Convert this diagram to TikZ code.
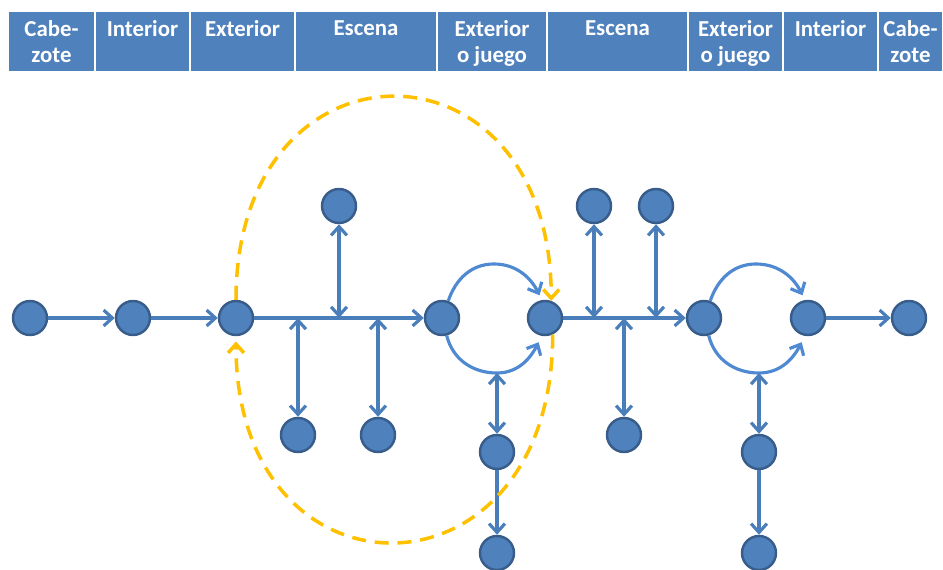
\documentclass[tikz,border=0pt]{standalone}
\usepackage{fontspec}
\setmainfont{Carlito}
\usetikzlibrary{arrows.meta,positioning,calc}
\definecolor{hdrblue}{HTML}{4F81BD}
\definecolor{dotblue}{HTML}{4F81BD}
\definecolor{dotedge}{HTML}{385D8A}
\definecolor{lineblue}{HTML}{4A7EBB}
\definecolor{loopblue}{HTML}{4E89D2}
\definecolor{loopyellow}{HTML}{FFC000}
\tikzset{
hcell/.style = {draw=white, line width=1.2pt, fill=hdrblue},
htext/.style = {anchor=north, align=center, text=white, inner sep=0pt, font=\bfseries\fontsize{13}{15}\selectfont},
dot/.style = {draw=dotedge, fill=dotblue, circle, line width=1.4pt, minimum size=0.68cm, inner sep=0pt},
link/.style = {draw=lineblue, line width=1.8pt},
looplink/.style = {draw=loopblue, line width=1.8pt},
back/.style = {draw=loopyellow, line width=2pt, dash pattern=on 8pt off 5pt}
}

\begin{document}
\begin{tikzpicture}[x=0.02cm, y=0.02cm, >={Straight Barb[length=5pt,width=9pt]}]
    \useasboundingbox (0,0) rectangle (943,-570);

    % cabecera
    \foreach \l/\r/\t [count=\i] in {8/95/{Cabe-\\zote}, 95/190/Interior, 190/295/Exterior, 295/437/Escena, 437/547/{Exterior\\o juego}, 547/688/Escena, 688/783/{Exterior\\o juego}, 783/878/Interior, 878/943/{Cabe-\\zote}}
    {
        \draw [hcell] (\l,-11) rectangle (\r,-72);
        \node [htext] (h\i) at ({(\l+\r)/2},-20) {\t};
    }

    % linea principal
    \node [dot] (n1) at (30,-318) {};
    \node [dot] (n2) at (133,-318) {};
    \node [dot] (n3) at (236,-318) {};
    \node [dot] (n4) at (442,-318) {};
    \node [dot] (n5) at (545,-318) {};
    \node [dot] (n6) at (704,-318) {};
    \node [dot] (n7) at (808,-318) {};
    \node [dot] (n8) at (909,-318) {};

    \node [dot] (t1) at (339,-206) {};
    \node [dot] (t2) at (594,-206) {};
    \node [dot] (t3) at (656,-206) {};
    \node [dot] (b1) at (298,-435) {};
    \node [dot] (b2) at (378,-435) {};
    \node [dot] (b3) at (624,-435) {};
    \node [dot] (c1) at (497,-452) {};
    \node [dot] (d1) at (497,-553) {};
    \node [dot] (c2) at (759,-452) {};
    \node [dot] (d2) at (759,-553) {};

    \coordinate (lt1) at (494,-264);
    \coordinate (lb1) at (497,-373);
    \coordinate (lt2) at (756,-264);
    \coordinate (lb2) at (759,-373);

    \draw [link,->] (n1) -- (n2);
    \draw [link,->] (n2) -- (n3);
    \draw [link,->] (n3) -- (n4);
    \draw [link,->] (n5) -- (n6);
    \draw [link,->] (n7) -- (n8);

    \draw [link,<->] (t1) -- (t1 |- n3);
    \draw [link,<->] (b1 |- n3) -- (b1);
    \draw [link,<->] (b2 |- n3) -- (b2);
    \draw [link,<->] (t2) -- (t2 |- n5);
    \draw [link,<->] (t3) -- (t3 |- n5);
    \draw [link,<->] (b3 |- n5) -- (b3);

    % bucles
    \draw [looplink,->,shorten >=3pt] (n4.70) to [out=71,in=180] (lt1) to [out=0,in=116] (n5.100);
    \draw [looplink,->,shorten >=4pt] (n4.-75) to [out=-76,in=180] (lb1) to [out=0,in=-117] (n5.-100);
    \draw [looplink,->,shorten >=3pt] (n6.70) to [out=71,in=180] (lt2) to [out=0,in=116] (n7.100);
    \draw [looplink,->,shorten >=4pt] (n6.-75) to [out=-76,in=180] (lb2) to [out=0,in=-117] (n7.-100);

    \draw [link,<->] (lb1) -- (c1);
    \draw [link,->] (c1) -- (d1);
    \draw [link,<->] (lb2) -- (c2);
    \draw [link,->] (c2) -- (d2);

    % vuelta atras
    \draw [back,->] (n3.north) to [out=90,in=90,looseness=2.2] (n5.70);
    \draw [back,->,shorten >=3pt] (n5.-65) to [out=-90,in=-90,looseness=2.22] (n3.south);
\end{tikzpicture}
\end{document}
